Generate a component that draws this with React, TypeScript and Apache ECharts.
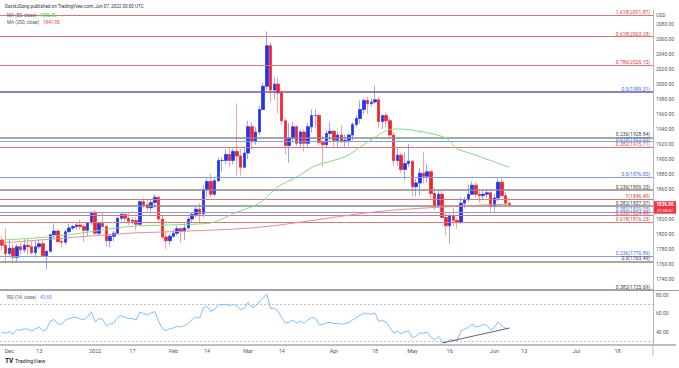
import React, { useEffect, useRef } from 'react';
import * as echarts from 'echarts';

// ---------- data ----------
const START_DATE = '2021-11-29';
const CATEGORY_COUNT = 175;

const OPEN = [
  1792, 1785, 1774, 1781, 1769, 1783, 1779, 1785, 1783, 1775, 1783, 1787, 1771, 1777, 1799, 1804, 1790, 1789, 1803, 1808,
  1810, 1812, 1810, 1805, 1815, 1829, 1801, 1814, 1810, 1791, 1797, 1801, 1821, 1826, 1821, 1817, 1818, 1813, 1843, 1839,
  1835, 1842, 1849, 1820, 1796, 1791, 1797, 1801, 1807, 1804, 1808, 1820, 1826, 1833, 1827, 1859, 1870, 1853, 1871, 1898,
  1898, 1906, 1898, 1910, 1904, 1889, 1908, 1943, 1923, 1936, 1966, 1997, 2051, 1992, 2000, 1988, 1951, 1918, 1928, 1943,
  1921, 1936, 1921, 1943, 1958, 1958, 1922, 1919, 1934, 1937, 1925, 1932, 1923, 1925, 1932, 1946, 1954, 1966, 1978, 1974,
  1976, 1979, 1950, 1958, 1951, 1932, 1898, 1905, 1886, 1894, 1897, 1863, 1868, 1881, 1877, 1883, 1854, 1838, 1853, 1822,
  1811, 1824, 1818, 1816, 1841, 1846, 1853, 1865, 1853, 1851, 1853, 1855, 1837, 1848, 1869, 1851, 1841,
];
const HIGH = [
  1797, 1808, 1793, 1786, 1787, 1788, 1793, 1793, 1790, 1791, 1792, 1792, 1778, 1799, 1814, 1806, 1795, 1806, 1814, 1812,
  1815, 1819, 1812, 1816, 1830, 1832, 1816, 1829, 1811, 1798, 1804, 1823, 1829, 1829, 1830, 1822, 1822, 1845, 1848, 1845,
  1845, 1853, 1850, 1824, 1802, 1800, 1807, 1811, 1809, 1814, 1822, 1828, 1836, 1841, 1865, 1874, 1880, 1874, 1902, 1903,
  1913, 1914, 1914, 1974, 1913, 1916, 1951, 1949, 1943, 1971, 2002, 2070, 2056, 2010, 2009, 1992, 1954, 1948, 1950, 1945,
  1940, 1939, 1948, 1966, 1966, 1960, 1931, 1939, 1949, 1939, 1937, 1945, 1933, 1935, 1949, 1958, 1978, 1981, 1983, 1981,
  1998, 1983, 1959, 1962, 1955, 1936, 1915, 1908, 1909, 1920, 1899, 1873, 1888, 1910, 1893, 1885, 1862, 1859, 1858, 1828,
  1827, 1834, 1822, 1849, 1850, 1866, 1870, 1869, 1860, 1858, 1860, 1857, 1854, 1874, 1875, 1856, 1843,
];
const LOW = [
  1778, 1762, 1769, 1761, 1762, 1772, 1775, 1773, 1772, 1768, 1780, 1770, 1753, 1775, 1793, 1788, 1782, 1786, 1802, 1805,
  1806, 1805, 1789, 1797, 1812, 1799, 1798, 1808, 1783, 1782, 1790, 1799, 1817, 1815, 1812, 1813, 1805, 1811, 1834, 1830,
  1829, 1834, 1817, 1794, 1780, 1786, 1795, 1798, 1788, 1792, 1805, 1816, 1822, 1814, 1822, 1850, 1849, 1850, 1869, 1883,
  1893, 1890, 1893, 1878, 1878, 1888, 1900, 1913, 1919, 1932, 1966, 1993, 1975, 1979, 1961, 1946, 1906, 1895, 1924, 1917,
  1915, 1910, 1916, 1935, 1942, 1918, 1890, 1915, 1924, 1915, 1916, 1921, 1915, 1917, 1925, 1942, 1947, 1960, 1960, 1970,
  1973, 1941, 1940, 1942, 1927, 1891, 1891, 1881, 1872, 1889, 1850, 1850, 1851, 1867, 1868, 1847, 1832, 1837, 1821, 1798,
  1787, 1810, 1807, 1813, 1834, 1843, 1852, 1848, 1842, 1846, 1848, 1829, 1829, 1843, 1850, 1836, 1837,
];
const CLOSE = [
  1785, 1774, 1781, 1769, 1783, 1779, 1785, 1783, 1775, 1783, 1787, 1771, 1777, 1799, 1804, 1790, 1789, 1803, 1808, 1810,
  1812, 1810, 1805, 1815, 1829, 1801, 1814, 1810, 1791, 1797, 1801, 1821, 1826, 1821, 1817, 1818, 1813, 1843, 1839, 1835,
  1842, 1849, 1820, 1796, 1791, 1797, 1801, 1807, 1804, 1808, 1820, 1826, 1833, 1827, 1859, 1870, 1853, 1871, 1898, 1898,
  1906, 1898, 1910, 1904, 1889, 1908, 1943, 1923, 1936, 1966, 1997, 2051, 1992, 2000, 1988, 1951, 1918, 1928, 1943, 1921,
  1936, 1921, 1943, 1958, 1958, 1922, 1919, 1934, 1937, 1925, 1932, 1923, 1925, 1932, 1946, 1954, 1966, 1978, 1974, 1976,
  1979, 1950, 1958, 1951, 1932, 1898, 1905, 1886, 1894, 1897, 1863, 1868, 1881, 1877, 1883, 1854, 1838, 1853, 1822, 1811,
  1824, 1818, 1816, 1841, 1846, 1853, 1865, 1853, 1851, 1853, 1855, 1837, 1848, 1869, 1851, 1841, 1839.06,
];

const RSI = [
  40, 38.5, 40.5, 38, 42.5, 42, 43.5, 43, 41, 43.5, 45, 41, 43, 52, 53.5, 48.5, 48.5, 52.5, 54.5, 55.5,
  56, 54, 53.5, 56.5, 62, 51, 54.5, 53.5, 46.5, 48.5, 49.5, 56, 57.5, 56, 54.5, 54.5, 53, 61.5, 60, 58.5,
  60.5, 62, 51.5, 44, 41.5, 43.5, 44.5, 46, 45.5, 47, 49.5, 53.5, 56.5, 55, 66, 67.5, 62, 64.5, 69, 69.5,
  70, 68.5, 70, 68, 64, 66, 72, 66.5, 68, 73, 77, 81, 65.5, 65.5, 62.5, 55.5, 49.5, 51, 53, 49.5,
  52, 49.5, 53, 55.5, 55, 48, 48, 50, 50.5, 49, 49.5, 48.5, 49, 50.5, 53, 55.5, 58, 60.5, 59.5, 59.5,
  60.5, 51.5, 52.5, 50.5, 45, 38.5, 41, 38, 40.5, 41, 34, 35.5, 39, 38.5, 40, 34.5, 31.5, 35.5, 29.5, 28,
  32, 31, 30.5, 41, 43, 45, 48.5, 45.5, 46, 48.5, 47, 42, 45, 51, 46.5, 44, 43.68,
];

// moving averages read at sample candles: [candle index, value]
const MA50_POINTS = [
  [0, 1792], [10, 1795], [21, 1801], [34, 1810], [45, 1812], [55, 1814], [57, 1816], [63, 1829], [69, 1841],
  [74, 1863], [79, 1876], [84, 1891], [92, 1903], [96, 1916], [100, 1929], [103, 1938], [106, 1940],
  [113, 1936], [119, 1928], [122, 1914], [127, 1905], [136, 1889],
];
const MA200_POINTS = [
  [0, 1788], [34, 1801], [45, 1803], [69, 1809], [103, 1831], [136, 1840],
];
const RSI_TREND = [[118, 28.1], [136, 44.3]];

const MA50_LAST = '1886.82';
const MA200_LAST = '1841.95';
const RSI_LAST = '43.68';
const LAST_PRICE = 1839.06;

const FIB_VALUES = [2091.87, 2063.28, 2025.15, 1989.31, 1928.84, 1923.05, 1915.71, 1876.0, 1859.25, 1846.49,
  1837.37, 1829.05, 1824.48, 1816.23, 1770.89, 1763.49, 1725.69];
const FIB_RATIOS = ['1.618', '0.618', '0.786', '0.5', '0.236', '0.618', '0.382', '0.5', '0.236', '1',
  '0.382', '0.382', '0.236', '0.618', '0.236', '0.5', '0.382'];
const FIB_KINDS = ['r', 'r', 'r', 'p', 'g', 'b', 'r', 'b', 'g', 'r', 'g', 'b', 'r', 'r', 'b', 'g', 'g'];

const TICK_DATES = ['2021-12-01', '2021-12-13', '2022-01-03', '2022-01-17', '2022-02-01', '2022-02-14',
  '2022-03-01', '2022-03-14', '2022-04-01', '2022-04-18', '2022-05-02', '2022-05-16', '2022-06-01',
  '2022-06-13', '2022-07-01', '2022-07-18'];
const TICK_LABELS = ['Dec', '13', '2022', '17', 'Feb', '14', 'Mar', '14', 'Apr', '18', 'May', '16', 'Jun',
  '13', 'Jul', '18'];

// ---------- helpers ----------
function buildDates(start: string, n: number): string[] {
  const out: string[] = [];
  const d = new Date(start + 'T00:00:00Z');
  while (out.length < n) {
    const wd = d.getUTCDay();
    if (wd !== 0 && wd !== 6) out.push(d.toISOString().slice(0, 10));
    d.setUTCDate(d.getUTCDate() + 1);
  }
  return out;
}

const FONT = 'Roboto, "Noto Sans", sans-serif';
const LINE_STYLE: Record<string, { line: string; text: string; width: number }> = {
  r: { line: '#e57373', text: '#d04545', width: 1.2 },
  b: { line: '#7b9ef5', text: '#3f6fe6', width: 1 },
  g: { line: '#8a8a8a', text: '#444444', width: 1.5 },
  p: { line: '#6f53b8', text: '#3f6fe6', width: 1.5 },
};

export default function App() {
  const ref = useRef<HTMLDivElement>(null);

  useEffect(() => {
    if (!ref.current) return;
    const chart = echarts.init(ref.current, null, { renderer: 'svg' });
    const dates = buildDates(START_DATE, CATEGORY_COUNT);
    const tickMap = new Map<number, string>();
    TICK_DATES.forEach((d, k) => {
      const idx = dates.indexOf(d);
      if (idx >= 0) tickMap.set(idx, TICK_LABELS[k]);
    });

    const wickData = OPEN.map((o, i) => [o, CLOSE[i], LOW[i], HIGH[i]]);
    const bodyData = OPEN.map((o, i) => [o, CLOSE[i], Math.min(o, CLOSE[i]), Math.max(o, CLOSE[i])]);

    const fibMarks = FIB_VALUES.map((v, i) => {
      const st = LINE_STYLE[FIB_KINDS[i]];
      return {
        yAxis: v,
        lineStyle: { color: st.line, width: st.width, type: 'solid' },
        label: {
          show: true,
          position: 'insideEndTop',
          formatter: `${FIB_RATIOS[i]}(${v.toFixed(2)})`,
          color: st.text,
          fontSize: 5,
          fontFamily: FONT,
          distance: [3, 0.5],
          padding: 0,
        },
      };
    });

    const option: any = {
      animation: false,
      backgroundColor: '#ffffff',
      textStyle: { fontFamily: FONT },
      grid: [
        { left: -1, width: 654, top: 10, height: 280 },
        { left: -1, width: 654, top: 291, height: 54 },
      ],
      xAxis: [
        {
          type: 'category', gridIndex: 0, data: dates,
          axisLine: { show: false }, axisTick: { show: false }, axisLabel: { show: false }, splitLine: { show: false },
        },
        {
          type: 'category', gridIndex: 1, data: dates,
          axisLine: { show: true, lineStyle: { color: '#a8a8a8', width: 1.5 } },
          axisTick: { show: false },
          splitLine: { show: false },
          axisLabel: {
            interval: (index: number) => tickMap.has(index),
            formatter: (_v: string, index: number) => tickMap.get(index) || '',
            fontSize: 5.5, color: '#555', margin: 3, fontFamily: FONT,
          },
        },
      ],
      yAxis: [
        {
          type: 'value', gridIndex: 0, position: 'right', min: 1725.33, max: 2098.67, splitNumber: 19,
          axisLine: { show: true, lineStyle: { color: '#b5b5b5', width: 1 } },
          axisTick: { show: false }, splitLine: { show: false },
          axisLabel: {
            fontSize: 5, color: '#555', margin: 3, fontFamily: FONT,
            formatter: (v: number) => (Math.abs(v % 20) < 1e-6 ? v.toFixed(2) : ''),
          },
        },
        {
          type: 'value', gridIndex: 1, position: 'right', min: 25.95, max: 84.3, splitNumber: 3,
          axisLine: { show: true, lineStyle: { color: '#b5b5b5', width: 1 } },
          axisTick: { show: false }, splitLine: { show: false },
          axisLabel: {
            fontSize: 5, color: '#555', margin: 3, fontFamily: FONT,
            formatter: (v: number) => (v === 40 || v === 60 || v === 80 ? v.toFixed(2) : ''),
          },
        },
      ],
      series: [
        {
          type: 'candlestick', xAxisIndex: 0, yAxisIndex: 0, data: wickData, barWidth: 3,
          itemStyle: { color: '#9aa7f7', color0: '#f5a3a3', borderColor: '#9aa7f7', borderColor0: '#f5a3a3', borderWidth: 1 },
          markLine: { silent: true, symbol: ['none', 'none'], animation: false, data: fibMarks },
          z: 3,
        },
        {
          type: 'candlestick', xAxisIndex: 0, yAxisIndex: 0, data: bodyData, barWidth: 3,
          itemStyle: { color: '#2331f2', color0: '#f2232b', borderColor: '#2331f2', borderColor0: '#f2232b', borderWidth: 0.5 },
          z: 4,
        },
        {
          type: 'line', xAxisIndex: 0, yAxisIndex: 0, data: MA50_POINTS, showSymbol: false, symbol: 'none', smooth: 0.3,
          lineStyle: { color: '#7ddc7d', width: 1 }, z: 5,
        },
        {
          type: 'line', xAxisIndex: 0, yAxisIndex: 0, data: MA200_POINTS, showSymbol: false, symbol: 'none', smooth: 0.3,
          lineStyle: { color: '#f08a8a', width: 1 }, z: 5,
        },
        {
          type: 'line', xAxisIndex: 1, yAxisIndex: 1, data: RSI, showSymbol: false, symbol: 'none',
          lineStyle: { color: '#7cc0f5', width: 1 },
          markLine: {
            silent: true, symbol: ['none', 'none'], animation: false,
            label: { show: false },
            lineStyle: { color: '#c2c2c2', type: [2, 2], width: 1 },
            data: [{ yAxis: 70 }, { yAxis: 30 }],
          },
          z: 5,
        },
        {
          type: 'line', xAxisIndex: 1, yAxisIndex: 1, data: RSI_TREND, showSymbol: false, symbol: 'none',
          lineStyle: { color: '#666', width: 1 }, z: 6,
        },
      ],
    };
    chart.setOption(option);

    const tagY = chart.convertToPixel({ yAxisIndex: 0 }, LAST_PRICE) as number;
    const txt = (text: string, x: number, y: number, fill: string, size: number, extra: any = {}) => ({
      type: 'text', x, y, silent: true, z: 100,
      style: { text, fill, fontSize: size, fontFamily: FONT, align: 'left', verticalAlign: 'middle', ...extra },
    });
    chart.setOption({
      graphic: [
        txt('DavidJSong published on TradingView.com, Jun 07, 2022 00:00 UTC', 5, 6, '#333', 4.6),
        txt('MA (50, close)', 7, 15, '#555', 4.6),
        txt(MA50_LAST, 40, 15, '#2fcf2f', 4.6),
        txt('MA (200, close)', 7, 22, '#555', 4.6),
        txt(MA200_LAST, 43, 22, '#ef2b2b', 4.6),
        txt('RSI (14, close)', 7, 297, '#555', 4.6),
        txt(RSI_LAST, 40, 297, '#3d8ff0', 4.6),
        txt('USD', 656, 15, '#555', 5),
        { type: 'line', shape: { x1: 0, y1: 290.5, x2: 679, y2: 290.5 }, style: { stroke: '#a0a0a0', lineWidth: 1 }, z: 50, silent: true },
        { type: 'line', shape: { x1: 653, y1: 345, x2: 653, y2: 356 }, style: { stroke: '#b5b5b5', lineWidth: 1 }, z: 50, silent: true },
        { type: 'line', shape: { x1: 653, y1: 345, x2: 676, y2: 345 }, style: { stroke: '#a8a8a8', lineWidth: 1.5 }, z: 50, silent: true },
        { type: 'rect', shape: { x: 654, y: tagY - 3.5, width: 22, height: 12.5 }, style: { fill: '#f23645' }, z: 60, silent: true },
        txt('1839.06', 665, tagY, '#fff', 4.6, { align: 'center', fontWeight: 'bold' }),
        txt('21:59:37', 665, tagY + 5.5, '#fff', 4.2, { align: 'center' }),
        txt('TV', 5, 361, '#131722', 6.5, { fontWeight: 'bold' }),
        txt('TradingView', 15, 361, '#131722', 5.5),
      ],
    });

    return () => chart.dispose();
  }, []);

  return <div ref={ref} style={{ position: 'fixed', left: 0, top: 0, width: 679, height: 368 }} />;
}
